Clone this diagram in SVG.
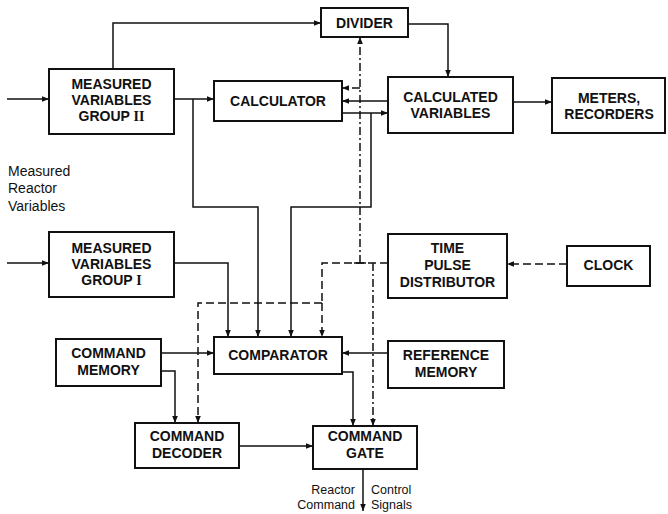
<svg xmlns="http://www.w3.org/2000/svg" width="668" height="514" viewBox="0 0 668 514">
<defs>
<marker id="ah" viewBox="0 0 10 10" refX="10" refY="5" markerWidth="7" markerHeight="7" markerUnits="userSpaceOnUse" orient="auto">
<path d="M0,1 L10,5 L0,9 z" fill="#111"/>
</marker>
</defs>
<style>
.box{fill:#fff;stroke:#111;stroke-width:2}
.t{font-family:"Liberation Sans",Arial,sans-serif;font-size:14px;font-weight:bold;fill:#111;text-anchor:middle}
.lab{font-family:"Liberation Sans",Arial,sans-serif;font-size:14px;fill:#111}
.sm{font-size:12.5px}
.c{fill:none;stroke:#111;stroke-width:1.5}
.a{marker-end:url(#ah)}
.d{stroke-dasharray:8,4}
.dd{stroke-dasharray:8,3,2,3}
.r{font-family:"Liberation Serif",serif}
</style>
<rect width="668" height="514" fill="#fff"/>
<g id="connectors">
<path class="c a" d="M7,99 H49"/>
<path class="c a" d="M7,263 H49"/>
<path class="c a" d="M113,69 V23 H321"/>
<path class="c a" d="M408,24 H448 V77"/>
<path class="c a" d="M174,99 H214"/>
<path class="c a" d="M193,99 V207 H258 V337"/>
<path class="c a" d="M174,263 H228 V337"/>
<path class="c a" d="M388,101 H342"/>
<path class="c a" d="M342,113 H388"/>
<path class="c a" d="M371,113 V207 H291 V337"/>
<path class="c a" d="M513,102 H552"/>
<path class="c dd a" d="M360,263 V37"/>
<path class="c dd a" d="M360,88 H342"/>
<path class="c" d="M354,263 H366"/>
<path class="c d" d="M388,263 H322 V303"/>
<path class="c d a" d="M322,303 V337"/>
<path class="c d a" d="M322,303 H198 V423"/>
<path class="c dd a" d="M373,263 V426"/>
<path class="c d a" d="M567,264 H507"/>
<path class="c a" d="M161,353 H214"/>
<path class="c a" d="M161,371 H175 V423"/>
<path class="c a" d="M388,353 H342"/>
<path class="c a" d="M342,372 H353 V426"/>
<path class="c a" d="M239,446 H313"/>
<path class="c a" d="M363,469 V511"/>
</g>
<g id="divider"><rect class="box" x="321" y="8" width="87" height="29"/><text class="t" x="364.5" y="28">DIVIDER</text></g>
<g id="group2"><rect class="box" x="49" y="69" width="125" height="65"/><text class="t" x="111.5" y="89">MEASURED</text><text class="t" x="111.5" y="105">VARIABLES</text><text class="t" x="111.5" y="121">GROUP <tspan class="r">II</tspan></text></g>
<g id="calculator"><rect class="box" x="214" y="81" width="128" height="40"/><text class="t" x="278" y="106">CALCULATOR</text></g>
<g id="calcvars"><rect class="box" x="388" y="77" width="125" height="56"/><text class="t" x="450.5" y="102">CALCULATED</text><text class="t" x="450.5" y="118">VARIABLES</text></g>
<g id="meters"><rect class="box" x="552" y="78" width="113" height="55"/><text class="t" x="609" y="103">METERS,</text><text class="t" x="609" y="119">RECORDERS</text></g>
<g id="reactorvars"><text class="lab" x="8" y="176">Measured</text><text class="lab" x="8" y="193">Reactor</text><text class="lab" x="8" y="211">Variables</text></g>
<g id="group1"><rect class="box" x="49" y="232" width="125" height="65"/><text class="t" x="111.5" y="253">MEASURED</text><text class="t" x="111.5" y="269">VARIABLES</text><text class="t" x="111.5" y="285">GROUP <tspan class="r">I</tspan></text></g>
<g id="tpd"><rect class="box" x="388" y="234" width="119" height="64"/><text class="t" x="447.5" y="253">TIME</text><text class="t" x="447.5" y="270">PULSE</text><text class="t" x="447.5" y="287">DISTRIBUTOR</text></g>
<g id="clock"><rect class="box" x="567" y="246" width="83" height="40"/><text class="t" x="608.5" y="270">CLOCK</text></g>
<g id="cmdmem"><rect class="box" x="56" y="339" width="105" height="47"/><text class="t" x="108.5" y="358">COMMAND</text><text class="t" x="108.5" y="375">MEMORY</text></g>
<g id="comparator"><rect class="box" x="214" y="337" width="128" height="37"/><text class="t" x="278" y="360">COMPARATOR</text></g>
<g id="refmem"><rect class="box" x="388" y="341" width="116" height="47"/><text class="t" x="446" y="360">REFERENCE</text><text class="t" x="446" y="377">MEMORY</text></g>
<g id="decoder"><rect class="box" x="135" y="423" width="104" height="45"/><text class="t" x="187" y="441">COMMAND</text><text class="t" x="187" y="458">DECODER</text></g>
<g id="gate"><rect class="box" x="313" y="426" width="104" height="43"/><text class="t" x="365" y="441">COMMAND</text><text class="t" x="365" y="458">GATE</text></g>
<g id="output"><text class="lab sm" x="355" y="494" text-anchor="end">Reactor</text><text class="lab sm" x="355" y="509" text-anchor="end">Command</text><text class="lab sm" x="371" y="494">Control</text><text class="lab sm" x="371" y="509">Signals</text></g>
</svg>
